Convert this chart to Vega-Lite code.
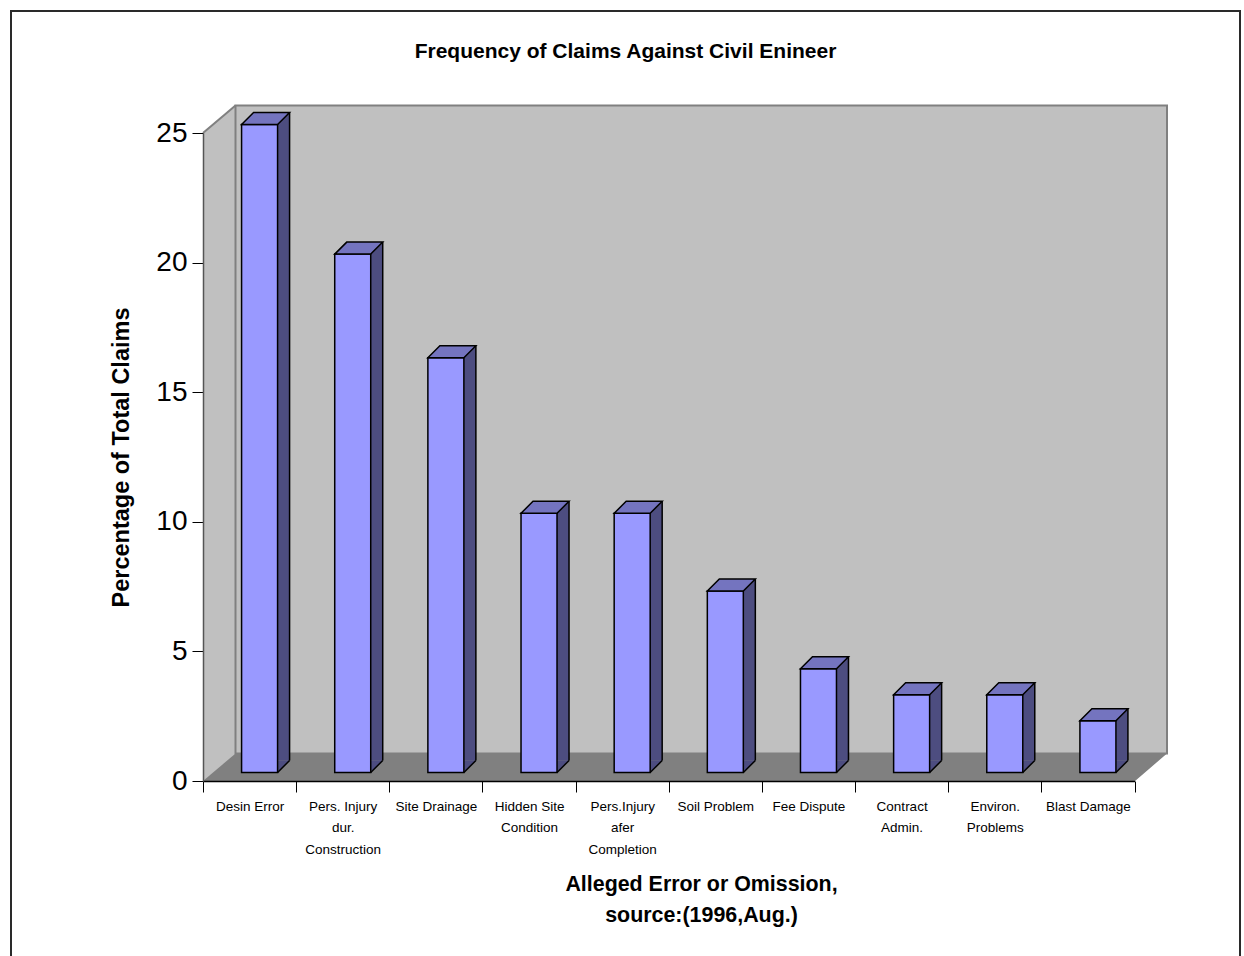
{
  "$schema": "https://vega.github.io/schema/vega-lite/v6.json",
  "width": 1229,
  "height": 950,
  "autosize": {"type": "none"},
  "padding": {"left": 11, "top": 11, "right": 4, "bottom": 0},
  "background": "white",
  "config": {
    "font": "Liberation Sans",
    "view": {"stroke": "#2a2a2a", "strokeWidth": 2, "fill": "white"}
  },
  "title": {
    "text": "Frequency of Claims Against Civil Enineer",
    "fontSize": 21,
    "fontWeight": "bold",
    "color": "black",
    "anchor": "middle",
    "frame": "group",
    "offset": -51
  },
  "layer": [
    {
      "data": {"values": [{}]},
      "layer": [
        {
          "mark": {"type": "rect", "fill": "#c0c0c0", "x2Offset": 32.5, "y2Offset": -27.5},
          "encoding": {
            "x": {"datum": 0, "type": "quantitative", "scale": {"domain": [0, 10], "range": [192, 1123.5], "nice": false, "zero": false}, "axis": null},
            "x2": {"datum": 10},
            "y": {"datum": 0, "type": "quantitative", "scale": {"domain": [0, 25], "range": [770, 122], "nice": false}},
            "y2": {"datum": 25}
          }
        },
        {
          "mark": {"type": "point", "shape": "M-1,-28.5L33.5,-28.5L-1,0Z", "size": 4, "filled": true, "fill": "white", "strokeWidth": 0, "opacity": 1},
          "encoding": {
            "x": {"datum": 0, "type": "quantitative", "axis": null},
            "y": {"datum": 25, "type": "quantitative"}
          }
        },
        {
          "mark": {"type": "rect", "fill": "#808080", "x2Offset": 32.5, "y2Offset": -27.5},
          "encoding": {
            "x": {"datum": 0, "type": "quantitative", "axis": null},
            "x2": {"datum": 10},
            "y": {"datum": 0, "type": "quantitative"},
            "y2": {"datum": 0}
          }
        },
        {
          "mark": {"type": "point", "shape": "M0,-28.5L33.5,-28.5L32.5,-27.5L0,0Z", "size": 4, "filled": true, "fill": "#c0c0c0", "strokeWidth": 0, "opacity": 1},
          "encoding": {
            "x": {"datum": 0, "type": "quantitative", "axis": null},
            "y": {"datum": 0, "type": "quantitative"}
          }
        },
        {
          "mark": {"type": "point", "shape": "M0,0.5L33.5,0.5L33.5,-28.5L32.5,-27.5Z", "size": 4, "filled": true, "fill": "white", "strokeWidth": 0, "opacity": 1},
          "encoding": {
            "x": {"datum": 10, "type": "quantitative", "axis": null},
            "y": {"datum": 0, "type": "quantitative"}
          }
        },
        {
          "mark": {"type": "rect", "fillOpacity": 0, "stroke": "#808080", "strokeWidth": 2, "xOffset": 32.5, "x2Offset": 32.5, "yOffset": -27.5, "y2Offset": -27.5},
          "encoding": {
            "x": {"datum": 0, "type": "quantitative", "axis": null},
            "x2": {"datum": 10},
            "y": {"datum": 0, "type": "quantitative"},
            "y2": {"datum": 25}
          }
        },
        {
          "mark": {"type": "point", "shape": "M0,0L32.5,-27.5", "size": 4, "filled": false, "stroke": "#808080", "strokeWidth": 2, "opacity": 1},
          "encoding": {
            "x": {"datum": 0, "type": "quantitative", "axis": null},
            "y": {"datum": 25, "type": "quantitative"}
          }
        }
      ]
    },
    {
      "data": {
        "values": [
          {"cat": "Desin Error", "value": 25},
          {"cat": "Pers. Injury|dur.|Construction", "value": 20},
          {"cat": "Site Drainage", "value": 16},
          {"cat": "Hidden Site|Condition", "value": 10},
          {"cat": "Pers.Injury|afer|Completion", "value": 10},
          {"cat": "Soil Problem", "value": 7},
          {"cat": "Fee Dispute", "value": 4},
          {"cat": "Contract|Admin.", "value": 3},
          {"cat": "Environ.|Problems", "value": 3},
          {"cat": "Blast Damage", "value": 2}
        ]
      },
      "encoding": {
        "x": {
          "field": "cat",
          "type": "nominal",
          "sort": null,
          "scale": {"range": [192, 1123.5], "paddingInner": 0, "paddingOuter": 0},
          "axis": {
            "title": ["Alleged Error or Omission,", "source:(1996,Aug.)"],
            "titleFontSize": 21.4,
            "titleFontWeight": "bold",
            "titleColor": "black",
            "titleX": 690,
            "titleY": 109,
            "titleAlign": "center",
            "titleBaseline": "alphabetic",
            "titleLineHeight": 31,
            "labelExpr": "split(datum.label, '|')",
            "labelFontSize": 13.5,
            "labelColor": "black",
            "labelLineHeight": 21.5,
            "labelPadding": 7,
            "labelAngle": 0,
            "labelOverlap": false,
            "labelBound": false,
            "tickBand": "extent",
            "tickSize": 11,
            "tickColor": "black",
            "tickWidth": 1,
            "domainColor": "black",
            "domainWidth": 1.5,
            "offset": -180,
            "zindex": 1,
            "grid": false
          }
        },
        "y": {
          "field": "value",
          "type": "quantitative",
          "scale": {"domain": [0, 25], "range": [770, 122], "nice": false},
          "axis": {
            "title": "Percentage of Total Claims",
            "titleFontSize": 23.5,
            "titleFontWeight": "bold",
            "titleColor": "black",
            "titlePadding": 22,
            "values": [0, 5, 10, 15, 20, 25],
            "labelFontSize": 28,
            "labelColor": "black",
            "labelPadding": 5,
            "tickSize": 11,
            "tickColor": "black",
            "tickWidth": 1,
            "domainColor": "#555555",
            "domainWidth": 1.5,
            "offset": -192,
            "zindex": 1,
            "grid": false
          }
        }
      },
      "layer": [
        {
          "mark": {"type": "bar", "width": 36, "fill": "#4d4d80", "strokeWidth": 0, "xOffset": 22, "yOffset": -20.5, "y2Offset": -20.5}
        },
        {
          "mark": {"type": "point", "shape": "M-1,1L1,-1L-1,-1Z", "size": 144, "filled": true, "fill": "#4d4d80", "strokeWidth": 0, "opacity": 1, "xOffset": 34, "yOffset": -14.5},
          "encoding": {"y": {"datum": 0, "type": "quantitative"}}
        },
        {
          "mark": {"type": "bar", "width": 36, "fill": "#9999ff", "stroke": "black", "strokeWidth": 1.5, "xOffset": 10, "yOffset": -8.5, "y2Offset": -8.5}
        },
        {
          "mark": {"type": "point", "shape": "M-1,0.25L0.5,0.25L1,-0.25L-0.5,-0.25Z", "size": 2304, "filled": true, "fill": "#7474bf", "stroke": "black", "strokeWidth": 1.5, "opacity": 1, "xOffset": 16, "yOffset": -14.5}
        },
        {
          "mark": {"type": "rule", "stroke": "black", "strokeWidth": 1.5, "xOffset": 40, "yOffset": -20.5, "y2Offset": -20.5},
          "encoding": {"y2": {"datum": 0}}
        },
        {
          "mark": {"type": "point", "shape": "M-1,1L1,-1", "size": 144, "filled": false, "stroke": "black", "strokeWidth": 1.5, "opacity": 1, "xOffset": 34, "yOffset": -14.5},
          "encoding": {"y": {"datum": 0, "type": "quantitative"}}
        }
      ]
    }
  ],
  "resolve": {"scale": {"x": "independent"}}
}
